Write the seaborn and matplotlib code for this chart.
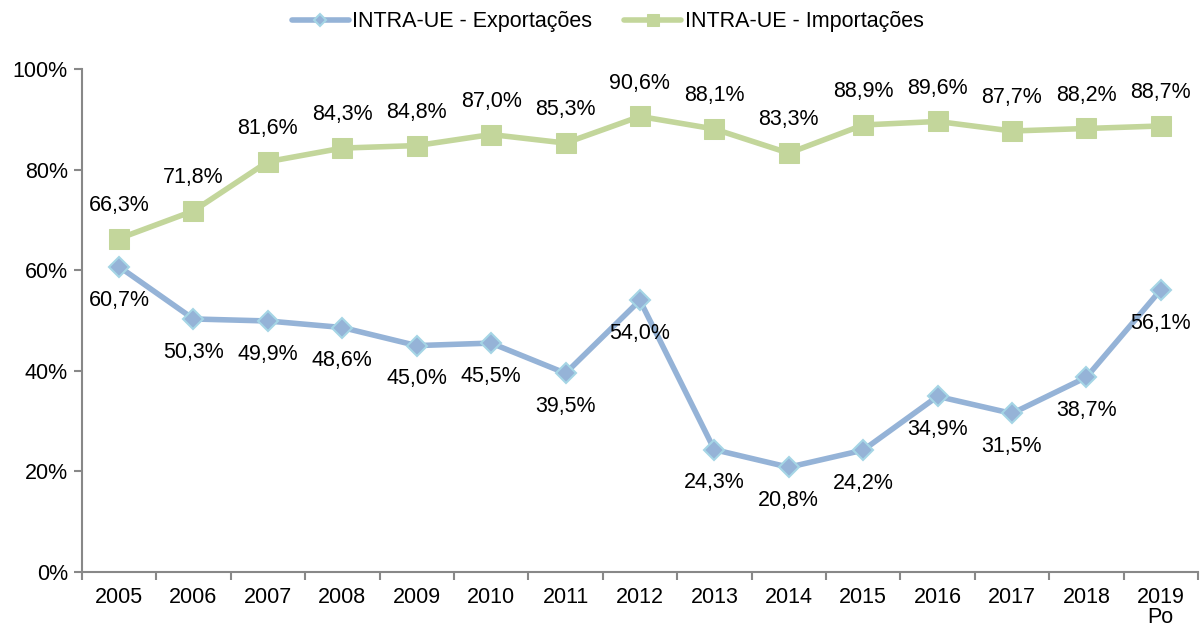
import numpy as np
import pandas as pd
import seaborn as sns
import matplotlib.pyplot as plt

# Data
years = ['2005', '2006', '2007', '2008', '2009', '2010', '2011', '2012',
         '2013', '2014', '2015', '2016', '2017', '2018', '2019\nPo']
exportacoes = [60.7, 50.3, 49.9, 48.6, 45.0, 45.5, 39.5, 54.0,
               24.3, 20.8, 24.2, 34.9, 31.5, 38.7, 56.1]
importacoes = [66.3, 71.8, 81.6, 84.3, 84.8, 87.0, 85.3, 90.6,
               88.1, 83.3, 88.9, 89.6, 87.7, 88.2, 88.7]

df = pd.DataFrame({'pos': np.arange(len(years)),
                   'exp': exportacoes, 'imp': importacoes})

sns.set_style('white')
plt.rcParams['font.family'] = ['Liberation Sans', 'DejaVu Sans']
plt.rcParams['text.color'] = 'black'
plt.rcParams['xtick.color'] = 'black'
plt.rcParams['ytick.color'] = 'black'

fs = 15.5

fig = plt.figure(figsize=(12.04, 6.29), dpi=100)
ax = fig.add_axes([0.068, 0.091, 0.927, 0.799])

exp_col = '#95B3D7'
imp_col = '#C3D69B'

sns.lineplot(data=df, x='pos', y='exp', ax=ax, color=exp_col, linewidth=4,
             marker='D', markersize=10, markerfacecolor=exp_col,
             markeredgecolor='#A5D5E5', markeredgewidth=1.5,
             label='INTRA-UE - Exportações')
sns.lineplot(data=df, x='pos', y='imp', ax=ax, color=imp_col, linewidth=4,
             marker='s', markersize=14, markerfacecolor=imp_col,
             markeredgecolor=imp_col, label='INTRA-UE - Importações')

# data labels
for i in range(len(years)):
    ax.annotate(f'{exportacoes[i]:.1f}%'.replace('.', ','), (i, exportacoes[i]),
                xytext=(0, -24), textcoords='offset points', ha='center',
                va='center', fontsize=fs)
    ax.annotate(f'{importacoes[i]:.1f}%'.replace('.', ','), (i, importacoes[i]),
                xytext=(0, 24), textcoords='offset points', ha='center',
                va='center', fontsize=fs)

ax.set_xlim(-0.5, len(years) - 0.5)
ax.set_ylim(0, 100)
ax.set_yticks(range(0, 101, 20))
ax.set_yticklabels([f'{v}%' for v in range(0, 101, 20)], fontsize=fs)

# category axis: tick marks between categories, labels centered
ax.set_xticks(np.arange(-0.5, len(years), 1.0))
ax.set_xticklabels([])
ax.set_xticks(np.arange(len(years)), minor=True)
ax.set_xticklabels(years, minor=True, fontsize=fs, linespacing=0.95)
ax.tick_params(axis='x', which='major', length=6, color='#888888', width=1.5)
ax.tick_params(axis='x', which='minor', length=0, pad=11)
ax.tick_params(axis='y', length=6, color='#888888', width=1.5, pad=4)
ax.yaxis.set_ticks_position('left')
ax.xaxis.set_ticks_position('bottom')

for s in ['top', 'right']:
    ax.spines[s].set_visible(False)
for s in ['left', 'bottom']:
    ax.spines[s].set_color('#888888')
    ax.spines[s].set_linewidth(1.5)

ax.set_xlabel('')
ax.set_ylabel('')
leg = ax.legend(loc='center', bbox_to_anchor=(0.471, 1.094), ncol=2,
                frameon=False, fontsize=fs, handlelength=2.65, columnspacing=1.5,
                handletextpad=0.15, borderaxespad=0, markerscale=0.6)

fig.savefig('out.png', dpi=100)
